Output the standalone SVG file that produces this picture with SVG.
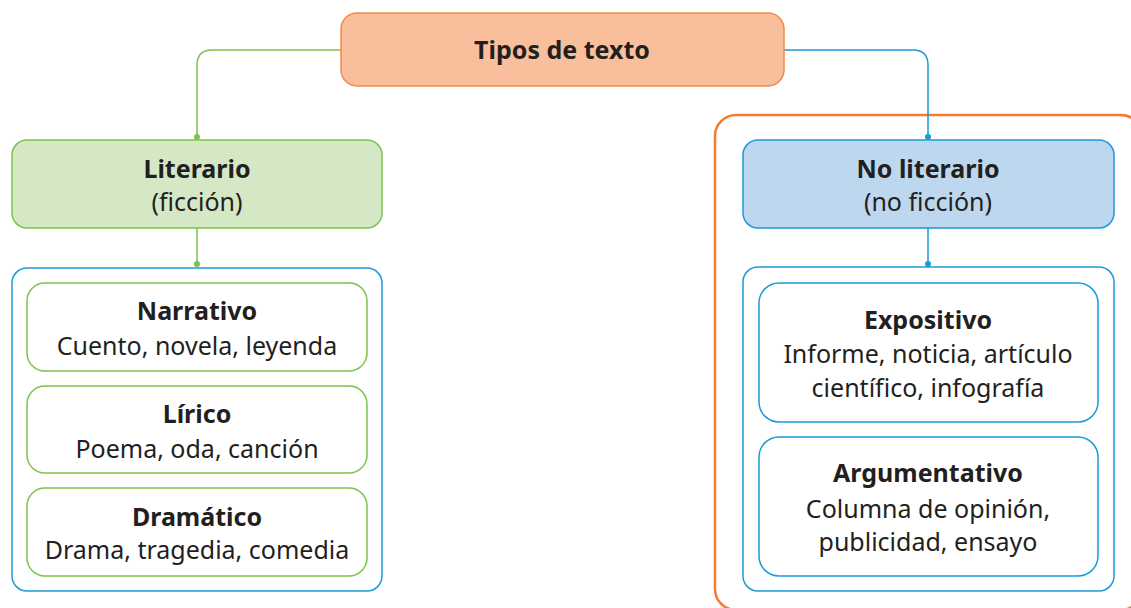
<svg xmlns="http://www.w3.org/2000/svg" width="1131" height="608" viewBox="0 0 1131 608">
<style>
text{font-family:"Noto Sans","Open Sans",sans-serif;font-size:25px;fill:#231f20;text-anchor:middle;font-variant-ligatures:none}
.b{font-weight:bold}
.g{stroke:#7dc24b;stroke-width:1.5;fill:none}
.bl{stroke:#1a9bd7;stroke-width:1.5;fill:none}
</style>
<rect x="0" y="0" width="1131" height="608" fill="#fff"/>
<g id="outer-orange"><rect x="715" y="115" width="427" height="495" rx="21" fill="none" stroke="#f47b30" stroke-width="2.5"/></g>
<g id="connectors">
<path class="g" d="M341 50 H212 Q197 50 197 65 V137"/>
<circle cx="197" cy="137" r="3" fill="#7dc24b"/>
<path class="g" d="M197 228 V264"/>
<circle cx="197" cy="264" r="3" fill="#7dc24b"/>
<path class="bl" d="M784 50 H913 Q928 50 928 65 V137"/>
<circle cx="928" cy="137" r="3" fill="#1a9bd7"/>
<path class="bl" d="M928 228 V264"/>
<circle cx="928" cy="264" r="3" fill="#1a9bd7"/>
</g>
<g id="tipos"><rect x="341" y="13" width="443" height="73" rx="16" fill="#f9bf9c" stroke="#f08a4b" stroke-width="1.5"/><text class="b" x="562" y="59">Tipos de texto</text></g>
<g id="literario"><rect x="12" y="140" width="370" height="88" rx="15" fill="#d5e8c6" stroke="#7dc24b" stroke-width="1.5"/><text class="b" x="197" y="178">Literario</text><text x="197" y="211">(ficción)</text></g>
<g id="noliterario"><rect x="743" y="140" width="371" height="88" rx="15" fill="#bdd7ee" stroke="#1a9bd7" stroke-width="1.5"/><text class="b" x="928" y="178">No literario</text><text x="928" y="211">(no ficción)</text></g>
<g id="grupo-literario"><rect class="bl" x="12" y="268" width="370" height="323" rx="15"/></g>
<g id="narrativo"><rect class="g" x="27" y="283" width="340" height="88" rx="18"/><text class="b" x="197" y="320">Narrativo</text><text x="197" y="355">Cuento, novela, leyenda</text></g>
<g id="lirico"><rect class="g" x="27" y="386" width="340" height="87" rx="18"/><text class="b" x="197" y="423">Lírico</text><text x="197" y="458">Poema, oda, canción</text></g>
<g id="dramatico"><rect class="g" x="27" y="488" width="340" height="88" rx="18"/><text class="b" x="197" y="526">Dramático</text><text x="197" y="559">Drama, tragedia, comedia</text></g>
<g id="grupo-noliterario"><rect class="bl" x="743" y="267" width="371" height="324" rx="15"/></g>
<g id="expositivo"><rect class="bl" x="759" y="283" width="339" height="139" rx="20"/><text class="b" x="928" y="329">Expositivo</text><text x="928" y="363">Informe, noticia, artículo</text><text x="928" y="397">científico, infografía</text></g>
<g id="argumentativo"><rect class="bl" x="759" y="437" width="339" height="139" rx="20"/><text class="b" x="928" y="482">Argumentativo</text><text x="928" y="518">Columna de opinión,</text><text x="928" y="551">publicidad, ensayo</text></g>
</svg>
